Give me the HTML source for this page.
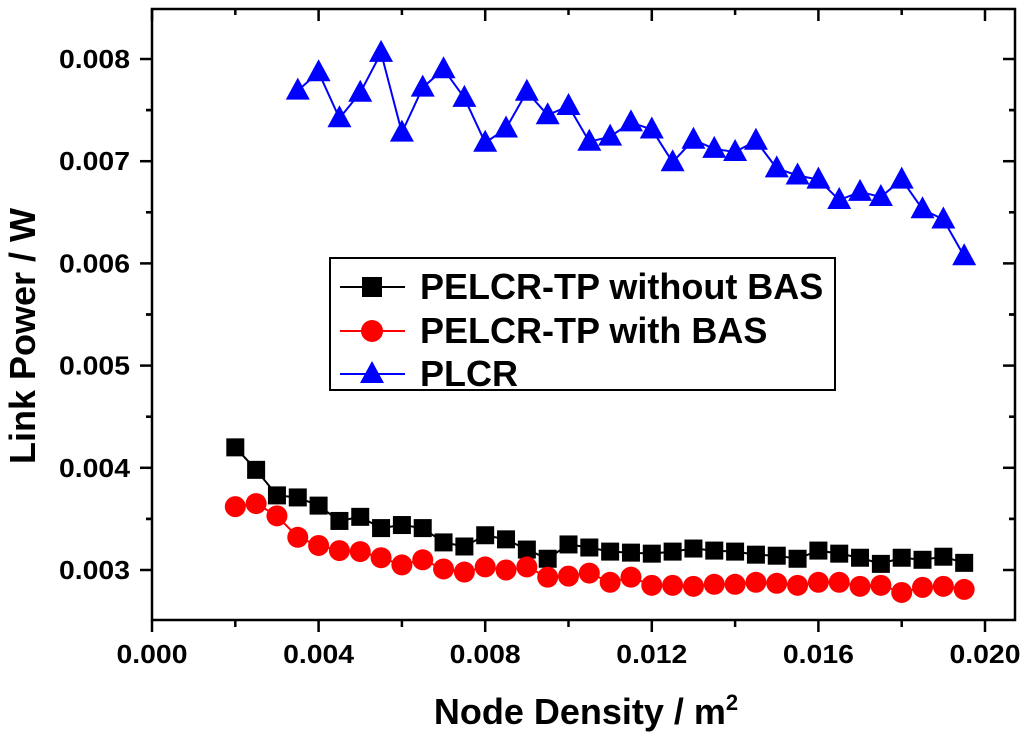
<!DOCTYPE html>
<html><head><meta charset="utf-8"><style>
body{margin:0;background:#fff;}
svg{font-family:"Liberation Sans",Arial,sans-serif;font-weight:bold;}
</style></head><body>
<svg id="chart" width="1024" height="738" xmlns="http://www.w3.org/2000/svg">
<rect x="152" y="9" width="863" height="611" fill="none" stroke="#000" stroke-width="2.5"/>
<g id="axes"></g><g id="series"></g>
<text x="586" y="724" font-size="36" text-anchor="middle">Node Density / m<tspan dy="-14" font-size="22">2</tspan></text>
<text transform="translate(35,336) rotate(-90)" font-size="36" text-anchor="middle">Link Power / W</text>
<g>
<rect x="330" y="258" width="505" height="132" fill="#fff" stroke="#000" stroke-width="2"/>
<line x1="340" y1="287" x2="405" y2="287" stroke="#000" stroke-width="2"/><rect x="362" y="277" width="20" height="20" fill="#000"/>
<text x="420" y="299" font-size="36">PELCR-TP without BAS</text>
<line x1="340" y1="331" x2="405" y2="331" stroke="#f00" stroke-width="2"/><circle cx="372" cy="331" r="11" fill="#f00"/>
<text x="420" y="343" font-size="36">PELCR-TP with BAS</text>
<line x1="340" y1="374" x2="405" y2="374" stroke="#00f" stroke-width="2"/><polygon points="372,361 384,383 360,383" fill="#00f"/>
<text x="420" y="386" font-size="36">PLCR</text>
</g>
</svg>
<script>
const xs=[0.002,0.0025,0.003,0.0035,0.004,0.0045,0.005,0.0055,0.006,0.0065,0.007,0.0075,0.008,0.0085,0.009,0.0095,0.010,0.0105,0.011,0.0115,0.012,0.0125,0.013,0.0135,0.014,0.0145,0.015,0.0155,0.016,0.0165,0.017,0.0175,0.018,0.0185,0.019,0.0195];
const withoutBAS=[0.00420,0.00398,0.00373,0.00371,0.00363,0.00348,0.00352,0.00341,0.00344,0.00341,0.00327,0.00323,0.00334,0.00330,0.00320,0.00311,0.00325,0.00322,0.00318,0.00317,0.00316,0.00318,0.00321,0.00319,0.00318,0.00315,0.00314,0.00311,0.00319,0.00316,0.00312,0.00306,0.00312,0.00310,0.00313,0.00307];
const withBAS=[0.00362,0.00365,0.00353,0.00332,0.00324,0.00319,0.00318,0.00312,0.00305,0.00310,0.00301,0.00298,0.00303,0.00300,0.00303,0.00293,0.00294,0.00297,0.00288,0.00293,0.00285,0.00285,0.00284,0.00286,0.00286,0.00288,0.00287,0.00285,0.00288,0.00288,0.00284,0.00285,0.00278,0.00283,0.00284,0.00281];
const plcrX=xs.slice(3);
const plcr=[0.00769,0.00787,0.00742,0.00767,0.00806,0.00728,0.00772,0.00790,0.00762,0.00718,0.00732,0.00768,0.00745,0.00754,0.00719,0.00724,0.00738,0.00731,0.00699,0.00721,0.00712,0.00709,0.00720,0.00693,0.00686,0.00682,0.00662,0.00670,0.00665,0.00682,0.00653,0.00643,0.00607];
const xTicks=[0,0.004,0.008,0.012,0.016,0.020];
const xTickLabels=["0.000","0.004","0.008","0.012","0.016","0.020"];
const yTicks=[0.003,0.004,0.005,0.006,0.007,0.008];
const yTickLabels=["0.003","0.004","0.005","0.006","0.007","0.008"];
const X=v=>152+v*(985-152)/0.020;
const Y=v=>570-(v-0.003)*102.2*1000;
const NS="http://www.w3.org/2000/svg";
const ax=document.getElementById('axes'),se=document.getElementById('series');
function mk(p,t,a){const e=document.createElementNS(NS,t);for(const k in a)e.setAttribute(k,a[k]);p.appendChild(e);return e;}
const dx=X(0.002)-X(0);
xTicks.forEach((v,i)=>{
 const l=mk(ax,'line',{x1:X(v),x2:X(v),y1:620,y2:632,stroke:'#000','stroke-width':2.5});
 
 
 const lt=mk(ax,'line',{x1:X(v),x2:X(v),y1:9,y2:21,stroke:'#000','stroke-width':2.5});
 
 
 if(X(v)+dx<1015){
 const m=mk(ax,'line',{x1:X(v)+dx,x2:X(v)+dx,y1:620,y2:627,stroke:'#000','stroke-width':2.5});
 
 
 const mt=mk(ax,'line',{x1:X(v)+dx,x2:X(v)+dx,y1:9,y2:15,stroke:'#000','stroke-width':2.5});
 
 
 }
 const t=mk(ax,'text',{x:X(v),y:663,'font-size':26,'text-anchor':'middle',textLength:71,lengthAdjust:'spacingAndGlyphs'});t.textContent=xTickLabels[i];
 
 
});
yTicks.forEach((v,i)=>{
 const l=mk(ax,'line',{x1:140,x2:152,y1:Y(v),y2:Y(v),stroke:'#000','stroke-width':2.5});
 
 
 const lr=mk(ax,'line',{x1:1003,x2:1015,y1:Y(v),y2:Y(v),stroke:'#000','stroke-width':2.5});
 
 
 [v-0.0005,v+0.0005].forEach(mv=>{
  if(Y(mv)>9&&Y(mv)<620){
  const m=mk(ax,'line',{x1:146,x2:152,y1:Y(mv),y2:Y(mv),stroke:'#000','stroke-width':2.5});
  
  
  const mr=mk(ax,'line',{x1:1009,x2:1015,y1:Y(mv),y2:Y(mv),stroke:'#000','stroke-width':2.5});
  
  }
 });
 const t=mk(ax,'text',{x:130,y:Y(v)+9,'font-size':26,'text-anchor':'end',textLength:71,lengthAdjust:'spacingAndGlyphs'});t.textContent=yTickLabels[i];
 
 
});
function series(xv,yv,color,shape,name){
 const pl=mk(se,'polyline',{points:xv.map((x,i)=>X(x)+','+Y(yv[i])).join(' '),fill:'none',stroke:color,'stroke-width':2});
 
 
 xv.forEach((x,i)=>{const cx=X(x),cy=Y(yv[i]);let e;
  if(shape==='sq')e=mk(se,'rect',{x:cx-9,y:cy-9,width:18,height:18,fill:color});
  else if(shape==='c')e=mk(se,'circle',{cx:cx,cy:cy,r:10.5,fill:color});
  else e=mk(se,'polygon',{points:`${cx},${cy-13} ${cx+12},${cy+9} ${cx-12},${cy+9}`,fill:color});
  
  
 });
}
series(xs,withoutBAS,'#000','sq','without-bas');
series(xs,withBAS,'#f00','c','with-bas');
series(plcrX,plcr,'#00f','t','plcr');
</script>
</body></html>
